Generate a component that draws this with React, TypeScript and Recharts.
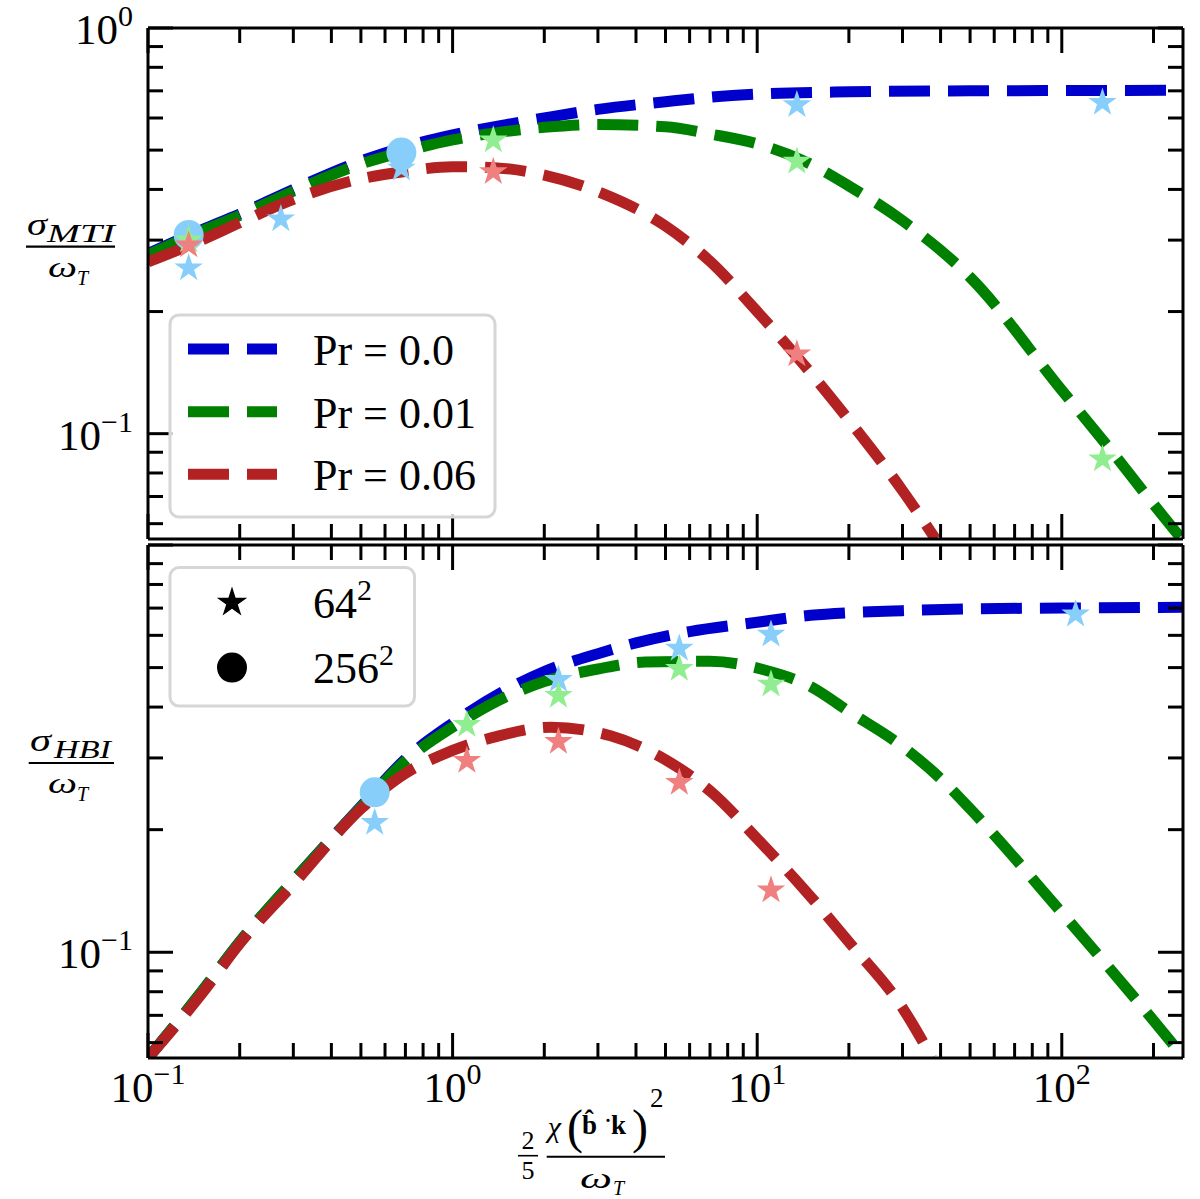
import React from "react";
import { ComposedChart, Line, Scatter, XAxis, YAxis } from "recharts";

// log tick positions
const xTicks = [0.1, 0.2, 0.3, 0.4, 0.5, 0.6, 0.7, 0.8, 0.9, 1, 2, 3, 4, 5, 6, 7, 8, 9, 10, 20, 30, 40, 50, 60, 70, 80, 90, 100, 200];
const yTicks = [0.06, 0.07, 0.08, 0.09, 0.1, 0.2, 0.3, 0.4, 0.5, 0.6, 0.7, 0.8, 0.9, 1];

const prLabels = ["Pr = 0.0", "Pr = 0.01", "Pr = 0.06"];
const lineColors = ["#0000CD", "#008000", "#B22222"];
const markerColors = ["#87CEFA", "#90EE90", "#F08080"];
const resLabels = ["64", "256"];

// MTI (top panel) theory curves
const mtiX0 = [0.1, 0.15, 0.2, 0.3, 0.5, 0.7, 1, 1.5, 2, 3, 5, 7, 10, 20, 50, 100, 250];
const mtiPr0 = [0.278, 0.318, 0.348, 0.4, 0.47, 0.51, 0.545, 0.578, 0.6, 0.63, 0.658, 0.675, 0.687, 0.696, 0.7, 0.701, 0.702];
const mtiX1 = [0.1, 0.15, 0.2, 0.3, 0.5, 0.7, 1, 1.5, 2, 3, 5, 7, 10, 14, 20, 30, 50, 100, 140, 200, 250];
const mtiPr001 = [0.276, 0.316, 0.345, 0.396, 0.462, 0.497, 0.53, 0.556, 0.569, 0.578, 0.571, 0.548, 0.518, 0.473, 0.408, 0.335, 0.243, 0.128, 0.094, 0.067, 0.0545];
const mtiX2 = [0.1, 0.15, 0.2, 0.3, 0.5, 0.7, 1, 1.4, 2, 3, 5, 7, 10, 14, 20, 30, 38.5];
const mtiPr006 = [0.265, 0.3, 0.331, 0.378, 0.425, 0.443, 0.455, 0.452, 0.434, 0.395, 0.325, 0.266, 0.2, 0.15, 0.108, 0.0724, 0.055];

// MTI simulation points
const mtiStarX0 = [0.136, 0.273, 0.679, 13.5, 136];
const mtiStar0 = [0.256, 0.338, 0.451, 0.646, 0.655];
const mtiStarX1 = [0.136, 1.36, 13.5, 136];
const mtiStar001 = [0.3, 0.529, 0.469, 0.0865];
const mtiStarX2 = [0.136, 1.36, 13.5];
const mtiStar006 = [0.2915, 0.442, 0.157];
const mtiCircleX = [0.136, 0.679];
const mtiCircle0 = [0.309, 0.493];

// HBI (bottom panel) theory curves
const hbiX0 = [0.1, 0.15, 0.2, 0.3, 0.5, 0.7, 1, 1.5, 2, 3, 4, 6, 10, 15, 20, 30, 50, 100, 250];
const hbiPr0 = [0.055, 0.08, 0.106, 0.15, 0.228, 0.298, 0.365, 0.441, 0.489, 0.541, 0.575, 0.613, 0.646, 0.672, 0.682, 0.69, 0.697, 0.7, 0.703];
const hbiX1 = [0.1, 0.15, 0.2, 0.3, 0.5, 0.7, 1, 1.5, 2, 3, 4.3, 7, 10.5, 15, 20, 30, 40, 50, 100, 200, 250];
const hbiPr001 = [0.055, 0.08, 0.106, 0.15, 0.227, 0.295, 0.357, 0.424, 0.462, 0.496, 0.516, 0.518, 0.494, 0.449, 0.39, 0.32, 0.267, 0.225, 0.125, 0.068, 0.0555];
const hbiX2 = [0.1, 0.15, 0.2, 0.3, 0.5, 0.7, 0.9, 1.4, 2.1, 3.3, 5, 7.2, 10, 14, 20, 30, 37.5];
const hbiPr006 = [0.055, 0.079, 0.105, 0.147, 0.225, 0.275, 0.303, 0.339, 0.357, 0.34, 0.297, 0.2445, 0.19, 0.145, 0.106, 0.073, 0.055];

// HBI simulation points
const hbiStarX0 = [0.555, 2.226, 5.55, 11.1, 111];
const hbiStar0 = [0.208, 0.467, 0.557, 0.603, 0.676];
const hbiStarX1 = [1.114, 2.226, 5.55, 11.1];
const hbiStar001 = [0.362, 0.427, 0.497, 0.455];
const hbiStarX2 = [1.114, 2.226, 5.55, 11.1];
const hbiStar006 = [0.2954, 0.329, 0.261, 0.142];
const hbiCircleX = [0.555];
const hbiCircle0 = [0.247];

const FONT = '"Liberation Serif", "Times New Roman", serif';
const pts = (xs: number[], ys: number[]) => xs.map((x, i) => ({ x, y: ys[i] }));

const isDecade = (v: number) => {
  const l = Math.log10(v);
  return Math.abs(l - Math.round(l)) < 1e-6;
};
const expText = (v: number) => {
  const e = Math.round(Math.log10(v));
  return e < 0 ? "\u2212" + -e : String(e);
};

function LogTick(props: any) {
  const { x, y, payload, side, labels } = props;
  const v = payload.value;
  const major = isDecade(v);
  const len = major ? 25 : 15;
  let x2 = x;
  let y2 = y;
  if (side === "bottom") y2 = y - len;
  if (side === "top") y2 = y + len;
  if (side === "left") x2 = x + len;
  if (side === "right") x2 = x - len;
  const showLabel = major && labels && labels.some((l: number) => Math.abs(l - v) < 1e-9);
  return (
    <g>
      <line x1={x} y1={y} x2={x2} y2={y2} stroke="#000" strokeWidth={3} />
      {showLabel && side === "bottom" && (
        <text x={x} y={y + 44} textAnchor="middle" fontFamily={FONT} fontSize={43} fill="#000">
          10
          <tspan dy={-18} fontSize={30}>{expText(v)}</tspan>
        </text>
      )}
      {showLabel && side === "left" && (
        <text x={x - 15} y={y + 16} textAnchor="end" fontFamily={FONT} fontSize={43} fill="#000">
          10
          <tspan dy={-18} fontSize={30}>{expText(v)}</tspan>
        </text>
      )}
    </g>
  );
}

function starPoints(cx: number, cy: number, R: number) {
  const p: string[] = [];
  for (let i = 0; i < 10; i++) {
    const a = -Math.PI / 2 + (i * Math.PI) / 5;
    const r = i % 2 === 0 ? R : R * 0.382;
    p.push(`${cx + r * Math.cos(a)},${cy + r * Math.sin(a)}`);
  }
  return p.join(" ");
}

const starShape = (fill: string) => (p: any) => <polygon points={starPoints(p.cx, p.cy, 15)} fill={fill} />;
const circleShape = (fill: string) => (p: any) => <circle cx={p.cx} cy={p.cy} r={15} fill={fill} />;

type PanelProps = {
  top: number;
  height: number;
  margin: { top: number; right: number; bottom: number; left: number };
  bottomHeight: number;
  curves: { x: number[]; y: number[] }[];
  stars: { x: number[]; y: number[] }[];
  circles: { x: number[]; y: number[] };
  xLabels: number[];
  yLabels: number[];
};

function Panel(props: PanelProps) {
  const { top, height, margin, bottomHeight, curves, stars, circles, xLabels, yLabels } = props;
  const axisLine = { stroke: "#000", strokeWidth: 3 };
  const common = {
    type: "number" as const,
    scale: "log" as const,
    allowDataOverflow: true,
    tickLine: false,
    tickSize: 0,
    tickMargin: 0,
    interval: 0 as const,
    axisLine,
  };
  return (
    <div style={{ position: "absolute", left: 0, top }}>
      <ComposedChart width={1200} height={height} margin={margin}>
        <XAxis xAxisId="b" dataKey="x" orientation="bottom" domain={[0.1, 250]} ticks={xTicks} height={bottomHeight}
          {...common} tick={(p: any) => <LogTick {...p} side="bottom" labels={xLabels} />} />
        <XAxis xAxisId="t" dataKey="x" orientation="top" domain={[0.1, 250]} ticks={xTicks} height={10}
          {...common} tick={(p: any) => <LogTick {...p} side="top" labels={[]} />} />
        <YAxis yAxisId="l" dataKey="y" orientation="left" domain={[0.055, 1]} ticks={yTicks} width={60}
          {...common} tick={(p: any) => <LogTick {...p} side="left" labels={yLabels} />} />
        <YAxis yAxisId="r" dataKey="y" orientation="right" domain={[0.055, 1]} ticks={yTicks} width={10}
          {...common} tick={(p: any) => <LogTick {...p} side="right" labels={[]} />} />
        {curves.map((c, i) => (
          <Line key={"l" + i} xAxisId="b" yAxisId="l" data={pts(c.x, c.y)} dataKey="y" type="monotone"
            stroke={lineColors[i]} strokeWidth={11} strokeDasharray="41 18" dot={false} activeDot={false}
            isAnimationActive={false} />
        ))}
        <Scatter xAxisId="b" yAxisId="l" data={pts(circles.x, circles.y)} shape={circleShape(markerColors[0])}
          isAnimationActive={false} />
        {stars.map((s, i) => (
          <Scatter key={"s" + i} xAxisId="b" yAxisId="l" data={pts(s.x, s.y)} shape={starShape(markerColors[i])}
            isAnimationActive={false} />
        ))}
      </ComposedChart>
    </div>
  );
}

function Overlay() {
  const ital = { fontFamily: FONT, fontStyle: "italic" as const, fill: "#000" };
  const rows1 = [349, 411.7, 474.3];
  const rows2 = [602.6, 667.6];
  return (
    <svg width={1200} height={1199} style={{ position: "absolute", left: 0, top: 0, pointerEvents: "none" }}>
      {/* y label top */}
      <text x={27} y={235} fontSize={32} textLength={20} lengthAdjust="spacingAndGlyphs" {...ital}>σ</text>
      <text x={47} y={242} fontSize={25} textLength={68} lengthAdjust="spacingAndGlyphs" {...ital}>MTI</text>
      <line x1={26} x2={115} y1={246.7} y2={246.7} stroke="#000" strokeWidth={2.2} />
      <text x={48} y={277} fontSize={30} textLength={29} lengthAdjust="spacingAndGlyphs" {...ital}>ω</text>
      <text x={77} y={285} fontSize={20} {...ital}>T</text>

      {/* y label bottom */}
      <text x={30} y={751} fontSize={32} textLength={21} lengthAdjust="spacingAndGlyphs" {...ital}>σ</text>
      <text x={54} y={758} fontSize={25} textLength={57} lengthAdjust="spacingAndGlyphs" {...ital}>HBI</text>
      <line x1={28.7} x2={114} y1={763} y2={763} stroke="#000" strokeWidth={2.2} />
      <text x={48} y={793} fontSize={30} textLength={29} lengthAdjust="spacingAndGlyphs" {...ital}>ω</text>
      <text x={77} y={801} fontSize={20} {...ital}>T</text>

      {/* x label */}
      <text x={528} y={1149} textAnchor="middle" fontFamily={FONT} fontSize={26}>2</text>
      <line x1={518} x2={538} y1={1155.7} y2={1155.7} stroke="#000" strokeWidth={1.6} />
      <text x={528} y={1179} textAnchor="middle" fontFamily={FONT} fontSize={26}>5</text>
      <text fontFamily={FONT} fill="#000">
        <tspan x={547.7} y={1137} fontSize={30} fontStyle="italic">χ</tspan>
        <tspan x={567} y={1143} fontSize={48}>(</tspan>
        <tspan x={582} y={1134} fontSize={27} fontWeight="bold">{"b\u0302"}</tspan>
        <tspan x={603.5} y={1130} fontSize={27}>·</tspan>
        <tspan x={611} y={1134} fontSize={27} fontWeight="bold">k</tspan>
        <tspan x={632} y={1143} fontSize={48}>)</tspan>
        <tspan x={650} y={1106.5} fontSize={27}>2</tspan>
      </text>
      <line x1={546.7} x2={665} y1={1156.7} y2={1156.7} stroke="#000" strokeWidth={2} />
      <text x={580} y={1188} fontSize={30} textLength={32} lengthAdjust="spacingAndGlyphs" {...ital}>ω</text>
      <text x={613} y={1195} fontSize={20} {...ital}>T</text>

      {/* legend: Prandtl numbers */}
      <rect x={170} y={315} width={325} height={202} rx={9} fill="#fff" fillOpacity={0.8} stroke="#d6d6d6" strokeWidth={3} />
      {prLabels.map((lab, i) => (
        <g key={lab}>
          <line x1={188} x2={277} y1={rows1[i]} y2={rows1[i]} stroke={lineColors[i]} strokeWidth={11} strokeDasharray="41 18" />
          <text x={313} y={rows1[i] + 16} fontFamily={FONT} fontSize={44} fill="#000">{lab}</text>
        </g>
      ))}

      {/* legend: resolutions */}
      <rect x={170} y={567.6} width={244.5} height={138.4} rx={9} fill="#fff" fillOpacity={0.8} stroke="#d6d6d6" strokeWidth={3} />
      <polygon points={starPoints(232, rows2[0], 16)} fill="#000" />
      <circle cx={232} cy={rows2[1]} r={15} fill="#000" />
      {resLabels.map((lab, i) => (
        <text key={lab} x={313} y={rows2[i] + 15} fontFamily={FONT} fontSize={44} fill="#000">
          {lab}
          <tspan dy={-18} fontSize={30}>2</tspan>
        </text>
      ))}
    </svg>
  );
}

export default function App() {
  return (
    <div style={{ position: "absolute", left: 0, top: 0, width: 1200, height: 1199, background: "#fff" }}>
      <Panel
        top={0}
        height={560}
        margin={{ top: 18, right: 7, bottom: 1, left: 88 }}
        bottomHeight={20}
        curves={[
          { x: mtiX0, y: mtiPr0 },
          { x: mtiX1, y: mtiPr001 },
          { x: mtiX2, y: mtiPr006 },
        ]}
        stars={[
          { x: mtiStarX0, y: mtiStar0 },
          { x: mtiStarX1, y: mtiStar001 },
          { x: mtiStarX2, y: mtiStar006 },
        ]}
        circles={{ x: mtiCircleX, y: mtiCircle0 }}
        xLabels={[]}
        yLabels={[1, 0.1]}
      />
      <Panel
        top={530}
        height={669}
        margin={{ top: 5, right: 7, bottom: 81, left: 88 }}
        bottomHeight={60}
        curves={[
          { x: hbiX0, y: hbiPr0 },
          { x: hbiX1, y: hbiPr001 },
          { x: hbiX2, y: hbiPr006 },
        ]}
        stars={[
          { x: hbiStarX0, y: hbiStar0 },
          { x: hbiStarX1, y: hbiStar001 },
          { x: hbiStarX2, y: hbiStar006 },
        ]}
        circles={{ x: hbiCircleX, y: hbiCircle0 }}
        xLabels={[0.1, 1, 10, 100]}
        yLabels={[0.1]}
      />
      <Overlay />
    </div>
  );
}
